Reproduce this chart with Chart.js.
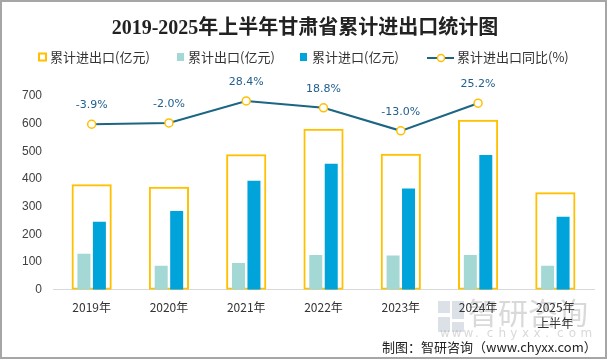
<!DOCTYPE html>
<html>
<head>
<meta charset="utf-8">
<script src="https://cdn.jsdelivr.net/npm/chart.js@4.4.1/dist/chart.umd.min.js"></script>
<style>
  body { margin: 0; background: #fff; }
  #wrap { width: 609px; height: 360px; }
</style>
</head>
<body>
<div id="wrap"><canvas id="myChart"></canvas></div>
<script>
const years = ['2019年', '2020年', '2021年', '2022年', '2023年', '2024年', ['2025年', '上半年']];
const totalTrade = [381, 372, 490, 582, 491, 614, 352];
const exports = [130, 87, 97, 126, 124, 126, 87];
const imports = [246, 285, 394, 455, 366, 487, 264];
const growth = [-3.9, -2.0, 28.4, 18.8, -13.0, 25.2, null];

const YELLOW = '#FFC000';
const TEAL = '#A3D8D5';
const BLUE = '#00A3DA';
const LINE = '#1B6585';
const CJK = '"Noto Sans CJK SC", sans-serif';

// title, legend, labels, credit and frame drawn on the canvas
const decor = {
  id: 'decor',
  beforeDraw(chart) {
    const c = chart.ctx;
    c.save();
    // watermark
    c.fillStyle = 'rgba(190,200,210,0.55)';
    c.fillRect(438, 301, 12, 12);
    c.fillRect(452, 301, 12, 18);
    c.fillRect(438, 317, 12, 15);
    c.fillRect(452, 322, 12, 10);
    c.fillStyle = 'rgba(180,180,180,0.5)';
    c.font = '30px ' + CJK;
    c.textAlign = 'left';
    c.textBaseline = 'middle';
    c.fillText('智研咨询', 468, 313);
    c.font = '12px "DejaVu Sans", sans-serif';
    const w = 'www.chyxx.com'.split('');
    w.forEach((ch, i) => c.fillText(ch, 440 + i * 11.7, 334));
    c.restore();
  },
  afterDraw(chart) {
    const c = chart.ctx;
    c.save();
    // frame
    c.strokeStyle = '#A6A6A6';
    c.lineWidth = 2;
    c.strokeRect(1, 1, 605, 357);
    // title
    c.fillStyle = '#222';
    c.textAlign = 'center';
    c.textBaseline = 'middle';
    c.font = 'bold 20px "Liberation Serif", "Noto Sans CJK SC", serif';
    c.fillText('2019-2025年上半年甘肃省累计进出口统计图', 305, 29);

    // legend
    c.font = '13px ' + CJK;
    c.textAlign = 'left';
    c.fillStyle = '#333';
    const ly = 57;
    c.strokeStyle = YELLOW;
    c.lineWidth = 2;
    c.strokeRect(39, ly - 3.5, 7, 7);
    c.fillText('累计进出口(亿元)', 50, ly);
    c.fillStyle = TEAL;
    c.fillRect(177, ly - 4, 7, 8);
    c.fillStyle = '#333';
    c.fillText('累计出口(亿元)', 188, ly);
    c.fillStyle = BLUE;
    c.fillRect(300, ly - 4, 7, 8);
    c.fillStyle = '#333';
    c.fillText('累计进口(亿元)', 312, ly);
    c.strokeStyle = LINE;
    c.lineWidth = 2;
    c.beginPath();
    c.moveTo(427, ly + 1);
    c.lineTo(454, ly + 1);
    c.stroke();
    c.beginPath();
    c.arc(441, ly + 1, 3.5, 0, Math.PI * 2);
    c.fillStyle = '#fff';
    c.fill();
    c.strokeStyle = YELLOW;
    c.lineWidth = 1.5;
    c.stroke();
    c.fillStyle = '#333';
    c.fillText('累计进出口同比(%)', 457, ly);

    // growth labels
    const meta = chart.getDatasetMeta(0);
    c.fillStyle = '#215F8F';
    c.font = '11px "DejaVu Sans", sans-serif';
    c.textAlign = 'center';
    meta.data.forEach((pt, i) => {
      if (growth[i] === null) return;
      c.fillText(growth[i].toFixed(1) + '%', pt.x, pt.y - 19);
    });

    // credit
    c.fillStyle = '#222';
    c.font = '13px ' + CJK;
    c.textAlign = 'left';
    c.fillText('制图：智研咨询（www.chyxx.com）', 382, 347);
    c.restore();
  }
};

new Chart(document.getElementById('myChart'), {
  type: 'bar',
  data: {
    labels: years,
    datasets: [
      {
        type: 'line',
        label: '累计进出口同比(%)',
        data: growth,
        yAxisID: 'y1',
        borderColor: LINE,
        borderWidth: 2,
        pointRadius: 4,
        pointBorderWidth: 1.5,
        pointBackgroundColor: '#fff',
        pointBorderColor: YELLOW,
        order: 0
      },
      {
        label: '累计出口(亿元)',
        data: exports,
        backgroundColor: TEAL,
        categoryPercentage: 0.4,
        barPercentage: 0.84,
        order: 1
      },
      {
        label: '累计进口(亿元)',
        data: imports,
        backgroundColor: BLUE,
        categoryPercentage: 0.4,
        barPercentage: 0.84,
        order: 1
      },
      {
        label: '累计进出口(亿元)',
        data: totalTrade,
        grouped: false,
        backgroundColor: 'rgba(0,0,0,0)',
        borderColor: YELLOW,
        borderWidth: 2,
        borderSkipped: false,
        categoryPercentage: 1,
        barPercentage: 0.52,
        order: 2
      }
    ]
  },
  options: {
    responsive: true,
    maintainAspectRatio: false,
    animation: false,
    layout: { padding: { top: 96, right: 15, bottom: 19, left: 11 } },
    plugins: {
      legend: { display: false },
      title: { display: false },
      tooltip: { enabled: false }
    },
    scales: {
      x: {
        grid: { display: false, drawTicks: false },
        border: { color: '#D9D9D9', width: 1 },
        ticks: { color: '#333', font: { size: 12, family: CJK, lineHeight: 1.3 }, padding: 10, maxRotation: 0 }
      },
      y: {
        min: 0,
        max: 700,
        grid: { display: false, drawTicks: false },
        border: { display: false },
        ticks: { stepSize: 100, color: '#404040', font: { size: 12, family: '"Liberation Sans", sans-serif' }, padding: 11 }
      },
      y1: {
        display: false,
        min: -233,
        max: 35.2
      }
    }
  },
  plugins: [decor]
});
</script>
</body>
</html>
